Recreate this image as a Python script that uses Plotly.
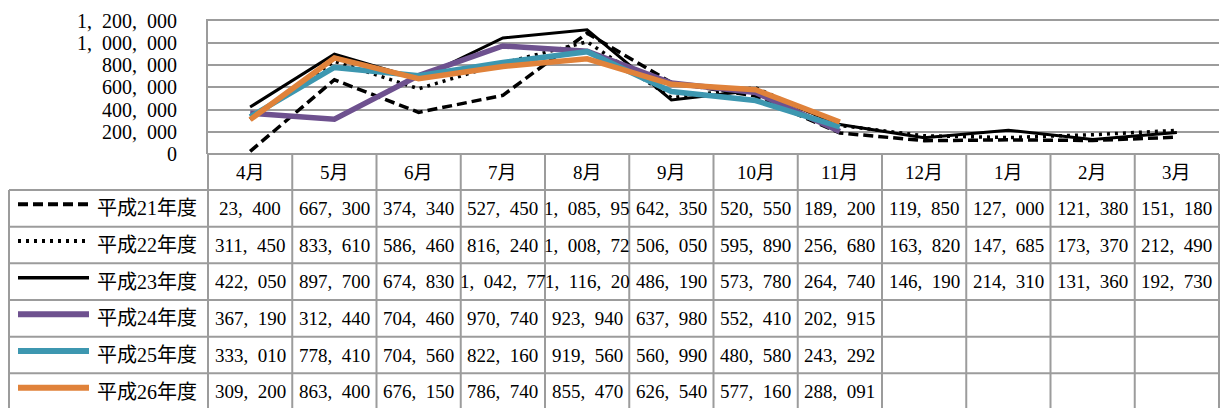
import plotly.graph_objects as go

# Monthly figures by fiscal year (April .. March)
months = ["4月", "5月", "6月", "7月", "8月", "9月", "10月", "11月", "12月", "1月", "2月", "3月"]
series_names = ["平成21年度", "平成22年度", "平成23年度", "平成24年度", "平成25年度", "平成26年度"]

h21 = [23400, 667300, 374340, 527450, 1085950, 642350, 520550, 189200, 119850, 127000, 121380, 151180]
h22 = [311450, 833610, 586460, 816240, 1008720, 506050, 595890, 256680, 163820, 147685, 173370, 212490]
h23 = [422050, 897700, 674830, 1042770, 1116200, 486190, 573780, 264740, 146190, 214310, 131360, 192730]
h24 = [367190, 312440, 704460, 970740, 923940, 637980, 552410, 202915]
h25 = [333010, 778410, 704560, 822160, 919560, 560990, 480580, 243292]
h26 = [309200, 863400, 676150, 786740, 855470, 626540, 577160, 288091]

y_ticks = [0, 200000, 400000, 600000, 800000, 1000000, 1200000]

series_values = [h21, h22, h23, h24, h25, h26]
line_styles = [
    dict(color="#000000", width=3.5, dash="10px,5px"),
    dict(color="#000000", width=3.5, dash="3px,5px"),
    dict(color="#000000", width=3, dash="solid"),
    dict(color="#6E518F", width=5.5, dash="solid"),
    dict(color="#3D97B0", width=5.5, dash="solid"),
    dict(color="#E0823A", width=5.5, dash="solid"),
]

W, H = 1224, 408
FONT = "Liberation Serif, Noto Sans CJK JP, serif"
GRID = "#9c9c9c"

# page geometry (pixels)
plot_left, plot_right = 208, 1219
plot_top, plot_bottom = 20.5, 154
header_bottom = 190
row_h = 36.67
table_left = 9


def px_x(x):
    return x / W


def px_y(y):
    return 1 - y / H


def fmt(v):
    return f"{v:,}".replace(",", ",\u2002")


def cell_text(v, max_chars=10):
    # a cell only has room for ten characters
    return fmt(v)[:max_chars]


fig = go.Figure()
for name, vals, style in zip(series_names, series_values, line_styles):
    fig.add_trace(go.Scatter(
        x=list(range(len(vals))), y=vals, name=name, mode="lines",
        line=style, showlegend=False, hoverinfo="skip",
    ))

shapes = []
line_fmt = dict(color=GRID, width=2)
n = len(months)
col_w = (plot_right - plot_left) / n

# vertical table rules
for k in range(n + 1):
    x = plot_left + k * col_w
    shapes.append(dict(type="line", xref="paper", yref="paper",
                       x0=px_x(x), x1=px_x(x), y0=px_y(plot_bottom), y1=px_y(H + 5),
                       line=line_fmt))
shapes.append(dict(type="line", xref="paper", yref="paper",
                   x0=px_x(table_left), x1=px_x(table_left),
                   y0=px_y(header_bottom), y1=px_y(H + 5), line=line_fmt))
# horizontal table rules
shapes.append(dict(type="line", xref="paper", yref="paper",
                   x0=px_x(plot_left), x1=px_x(plot_right),
                   y0=px_y(plot_bottom), y1=px_y(plot_bottom), line=line_fmt))
for r in range(len(series_names)):
    y = header_bottom + r * row_h
    shapes.append(dict(type="line", xref="paper", yref="paper",
                       x0=px_x(table_left), x1=px_x(plot_right),
                       y0=px_y(y), y1=px_y(y), line=line_fmt))

annotations = []
# month header
for i, m in enumerate(months):
    annotations.append(dict(x=i, y=px_y((plot_bottom + header_bottom) / 2), xref="x", yref="paper",
                            text=m, showarrow=False, xanchor="center", yanchor="middle",
                            font=dict(family=FONT, size=19, color="#000")))

# series rows: legend key, name and values
for r, (name, vals, style) in enumerate(zip(series_names, series_values, line_styles)):
    yc = header_bottom + (r + 0.5) * row_h
    key = dict(style)
    shapes.append(dict(type="line", xref="paper", yref="paper",
                       x0=px_x(18), x1=px_x(89), y0=px_y(yc - 4), y1=px_y(yc - 4),
                       line=dict(color=key["color"], width=key["width"] + 0.5, dash=key["dash"])))
    annotations.append(dict(x=px_x(95), y=px_y(yc), xref="paper", yref="paper",
                            text=name, showarrow=False, xanchor="left", yanchor="middle",
                            font=dict(family=FONT, size=20, color="#000")))
    for i, v in enumerate(vals):
        annotations.append(dict(x=i, y=px_y(yc), xref="x", yref="paper",
                                text=cell_text(v), showarrow=False,
                                xanchor="center", yanchor="middle",
                                font=dict(family=FONT, size=19, color="#000")))

fig.update_layout(
    width=W, height=H,
    margin=dict(l=0, r=0, t=0, b=0, autoexpand=False),
    paper_bgcolor="white", plot_bgcolor="white",
    shapes=shapes, annotations=annotations,
    # the x axis line sits on top and closes the plot frame at 1,200,000
    xaxis=dict(domain=[px_x(plot_left), px_x(plot_right)], range=[-0.5, n - 0.5],
               side="top", showticklabels=False, ticks="", showgrid=False, zeroline=False,
               showline=True, linecolor=GRID, linewidth=2,
               fixedrange=True, automargin=False),
    yaxis=dict(domain=[px_y(plot_bottom), px_y(plot_top)], range=[0, 1200000],
               tickvals=y_ticks, ticktext=[fmt(v) for v in y_ticks],
               tickfont=dict(family=FONT, size=20, color="#000"),
               ticks="", ticklabelstandoff=25,
               showgrid=True, gridcolor=GRID, gridwidth=2, zeroline=False,
               showline=True, linecolor=GRID, linewidth=2, fixedrange=True,
               automargin=False),
)

fig.write_html("out.html")
